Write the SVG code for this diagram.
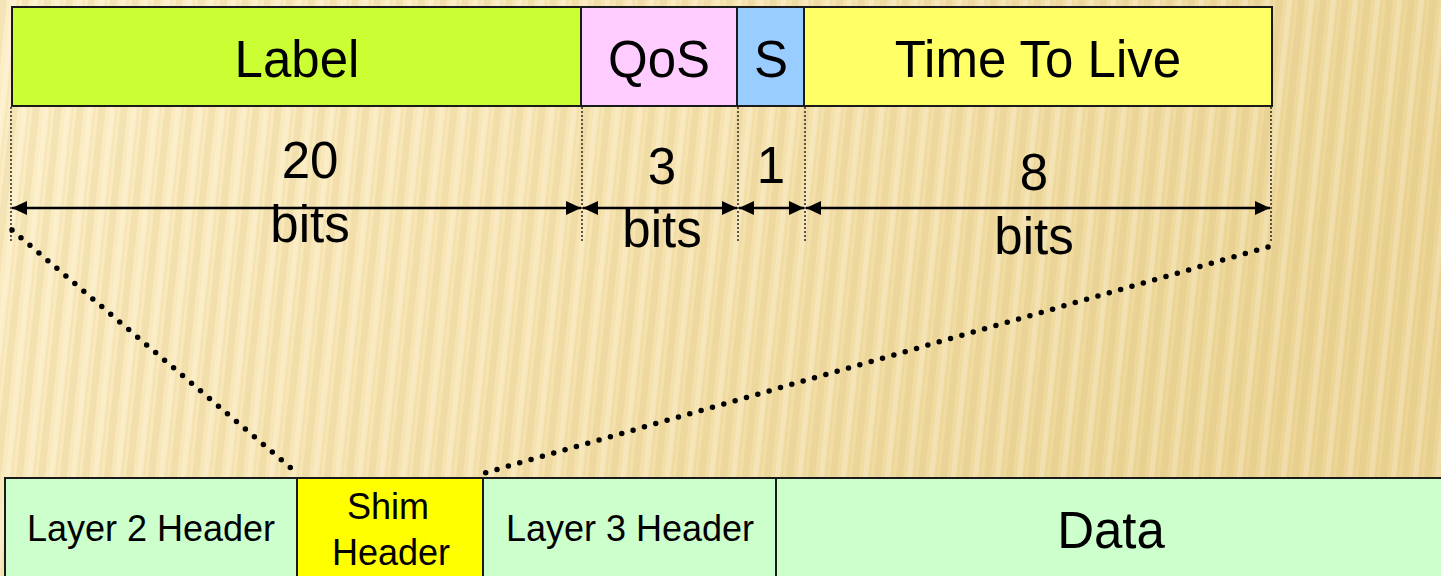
<svg xmlns="http://www.w3.org/2000/svg" width="1441" height="576" viewBox="0 0 1441 576">
  <defs>
    <linearGradient id="bg" x1="0" y1="0" x2="1" y2="0.3">
      <stop offset="0" stop-color="#FCEEC6"/>
      <stop offset="0.5" stop-color="#F6E3B0"/>
      <stop offset="1" stop-color="#ECD596"/>
    </linearGradient>
    <pattern id="stripes" width="22" height="576" patternUnits="userSpaceOnUse" patternTransform="skewX(-6)">
      <rect x="0" y="0" width="7" height="576" fill="#C9A85A" opacity="0.14"/>
      <rect x="11" y="0" width="5" height="576" fill="#FFFFFF" opacity="0.2"/>
      <rect x="17" y="0" width="2" height="576" fill="#B8964A" opacity="0.07"/>
    </pattern>
    <marker id="ah" viewBox="0 0 15 14" refX="15" refY="7" markerWidth="15" markerHeight="14" markerUnits="userSpaceOnUse" orient="auto-start-reverse">
      <path d="M0,0 L15,7 L0,14 Z" fill="#000"/>
    </marker>
    <style>
      .box { stroke: #1a1a1a; stroke-width: 2; }
      .t { font-family: "Liberation Sans", Arial, sans-serif; fill: #000; text-anchor: middle; }
      .big { font-size: 51px; }
      .small { font-size: 36px; }
      .sep { stroke: #333; stroke-width: 1.6; stroke-dasharray: 2 2; fill: none; }
      .dim { stroke: #000; stroke-width: 2.5; fill: none; marker-start: url(#ah); marker-end: url(#ah); }
      .dots { stroke: #000; stroke-width: 5.5; stroke-linecap: round; stroke-dasharray: 0 11.8; fill: none; }
    </style>
  </defs>

  <rect x="0" y="0" width="1441" height="576" fill="url(#bg)"/>
  <rect x="0" y="0" width="1441" height="576" fill="url(#stripes)"/>

  <g id="label">
    <rect class="box" x="12" y="7" width="569" height="99" fill="#CCFF33"/>
    <text class="t big" x="297" y="77">Label</text>
  </g>
  <g id="qos">
    <rect class="box" x="581" y="7" width="156" height="99" fill="#FFCCFF"/>
    <text class="t big" x="659" y="77">QoS</text>
  </g>
  <g id="s">
    <rect class="box" x="737" y="7" width="67" height="99" fill="#99CCFF"/>
    <text class="t big" x="771" y="77">S</text>
  </g>
  <g id="ttl">
    <rect class="box" x="804" y="7" width="468" height="99" fill="#FFFF66"/>
    <text class="t big" x="1038" y="77">Time To Live</text>
  </g>

  <g id="dim-labels">
    <text class="t big" x="310" y="178">20</text>
    <text class="t big" x="310" y="242">bits</text>
    <text class="t big" x="662" y="184">3</text>
    <text class="t big" x="662" y="247">bits</text>
    <text class="t big" x="771" y="183">1</text>
    <text class="t big" x="1034" y="190">8</text>
    <text class="t big" x="1034" y="254">bits</text>
  </g>

  <g id="layer2">
    <rect class="box" x="5" y="478" width="292" height="110" fill="#CCFFCC"/>
    <text class="t small" x="151" y="541">Layer 2 Header</text>
  </g>
  <g id="shim">
    <rect class="box" x="297" y="478" width="186" height="110" fill="#FFFF00"/>
    <text class="t small" x="388" y="519">Shim</text>
    <text class="t small" x="391" y="565">Header</text>
  </g>
  <g id="layer3">
    <rect class="box" x="483" y="478" width="293" height="110" fill="#CCFFCC"/>
    <text class="t small" x="630" y="541">Layer 3 Header</text>
  </g>
  <g id="data">
    <rect class="box" x="776" y="478" width="680" height="110" fill="#CCFFCC"/>
    <text class="t big" x="1111" y="548">Data</text>
  </g>

  <g id="connectors">
    <line class="sep" x1="11" y1="107" x2="11" y2="243"/>
    <line class="sep" x1="582" y1="107" x2="582" y2="243"/>
    <line class="sep" x1="738" y1="107" x2="738" y2="243"/>
    <line class="sep" x1="805" y1="107" x2="805" y2="243"/>
    <line class="sep" x1="1271" y1="107" x2="1271" y2="243"/>

    <line class="dim" x1="12" y1="208" x2="581" y2="208"/>
    <line class="dim" x1="583" y1="208" x2="737" y2="208"/>
    <line class="dim" x1="739" y1="208" x2="804" y2="208"/>
    <line class="dim" x1="806" y1="208" x2="1270" y2="208"/>

    <line class="dots" x1="12" y1="230" x2="298" y2="474"/>
    <line class="dots" x1="1268" y1="247" x2="481" y2="474"/>
  </g>
</svg>
